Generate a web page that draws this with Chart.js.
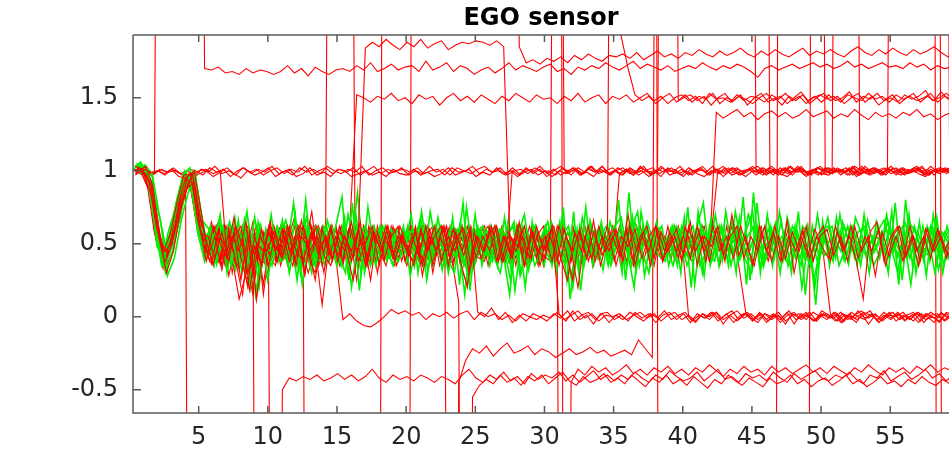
<!DOCTYPE html>
<html>
<head>
<meta charset="utf-8">
<script src="https://cdn.jsdelivr.net/npm/chart.js@4"></script>
<style>
  body { margin: 0; background: #fff; }
  canvas { display: block; }
</style>
</head>
<body>
<canvas id="egoChart" width="949" height="453"></canvas>
<script>
// sample times (s)
const xs = [
  0.3, 0.8, 1.3, 1.8, 2.3, 2.8, 3.3, 3.8, 4.3, 4.8,
  5.3, 5.8, 6.3, 6.8, 7.3, 7.8, 8.3, 8.8, 9.3, 9.8,
  10.3, 10.8, 11.3, 11.8, 12.3, 12.8, 13.3, 13.8, 14.3, 14.8,
  15.3, 15.8, 16.3, 16.8, 17.3, 17.8, 18.3, 18.8, 19.3, 19.8,
  20.3, 20.8, 21.3, 21.8, 22.3, 22.8, 23.3, 23.8, 24.3, 24.8,
  25.3, 25.8, 26.3, 26.8, 27.3, 27.8, 28.3, 28.8, 29.3, 29.8,
  30.3, 30.8, 31.3, 31.8, 32.3, 32.8, 33.3, 33.8, 34.3, 34.8,
  35.3, 35.8, 36.3, 36.8, 37.3, 37.8, 38.3, 38.8, 39.3, 39.8,
  40.3, 40.8, 41.3, 41.8, 42.3, 42.8, 43.3, 43.8, 44.3, 44.8,
  45.3, 45.8, 46.3, 46.8, 47.3, 47.8, 48.3, 48.8, 49.3, 49.8,
  50.3, 50.8, 51.3, 51.8, 52.3, 52.8, 53.3, 53.8, 54.3, 54.8,
  55.3, 55.8, 56.3, 56.8, 57.3, 57.8, 58.3, 58.8, 59.3
];

const xTicks = [5, 10, 15, 20, 25, 30, 35, 40, 45, 50, 55];
const yTicks = [-0.5, 0, 0.5, 1, 1.5];
const titleText = 'EGO sensor';

// green runs
const g1 = [
  1.03, 1.05, 0.95, 0.62, 0.35, 0.52, 0.78, 0.97, 1.02, 0.70,
  0.48, 0.62, 0.40, 0.58, 0.35, 0.66, 0.28, 0.55, 0.20, 0.60,
  0.42, 0.58, 0.45, 0.78, 0.30, 0.62, 0.40, 0.57, 0.38, 0.60,
  0.82, 0.25, 0.70, 0.35, 0.58, 0.42, 0.55, 0.40, 0.60, 0.45,
  0.70, 0.30, 0.62, 0.40, 0.56, 0.35, 0.68, 0.22, 0.75, 0.40,
  0.60, 0.42, 0.55, 0.38, 0.65, 0.18, 0.55, 0.32, 0.62, 0.45,
  0.58, 0.30, 0.75, 0.12, 0.60, 0.35, 0.62, 0.40, 0.55, 0.38,
  0.80, 0.25, 0.68, 0.35, 0.60, 0.40, 0.55, 0.42, 0.62, 0.30,
  0.75, 0.22, 0.62, 0.45, 0.70, 0.38, 0.60, 0.30, 0.82, 0.25,
  0.78, 0.35, 0.62, 0.40, 0.58, 0.30, 0.72, 0.15, 0.62, 0.40,
  0.55, 0.38, 0.70, 0.42, 0.60, 0.35, 0.66, 0.45, 0.58, 0.30,
  0.78, 0.25, 0.70, 0.30, 0.62, 0.38, 0.68, 0.35, 0.60
];
const g2 = [
  1.00, 1.04, 0.98, 0.55, 0.30, 0.45, 0.72, 0.92, 0.98, 0.62,
  0.55, 0.35, 0.60, 0.42, 0.68, 0.30, 0.62, 0.15, 0.50, 0.38,
  0.60, 0.40, 0.62, 0.25, 0.68, 0.42, 0.55, 0.35, 0.62, 0.42,
  0.30, 0.78, 0.18, 0.60, 0.40, 0.62, 0.38, 0.58, 0.42, 0.62,
  0.35, 0.72, 0.40, 0.62, 0.32, 0.58, 0.40, 0.78, 0.18, 0.62,
  0.40, 0.62, 0.35, 0.68, 0.30, 0.60, 0.20, 0.65, 0.38, 0.60,
  0.40, 0.65, 0.25, 0.72, 0.18, 0.62, 0.40, 0.65, 0.35, 0.60,
  0.30, 0.85, 0.30, 0.62, 0.38, 0.65, 0.40, 0.60, 0.35, 0.68,
  0.20, 0.72, 0.40, 0.65, 0.35, 0.72, 0.42, 0.68, 0.22, 0.85,
  0.30, 0.70, 0.40, 0.66, 0.35, 0.62, 0.20, 0.55, 0.08, 0.65,
  0.35, 0.68, 0.40, 0.62, 0.35, 0.70, 0.40, 0.62, 0.38, 0.72,
  0.22, 0.80, 0.35, 0.65, 0.28, 0.70, 0.40, 0.62, 0.45
];
const g3 = [
  1.05, 1.02, 0.90, 0.48, 0.40, 0.60, 0.82, 1.00, 0.92, 0.55,
  0.42, 0.52, 0.66, 0.36, 0.55, 0.45, 0.72, 0.35, 0.62, 0.25,
  0.55, 0.48, 0.35, 0.70, 0.22, 0.55, 0.62, 0.40, 0.52, 0.35,
  0.62, 0.45, 0.85, 0.30, 0.55, 0.38, 0.62, 0.45, 0.52, 0.38,
  0.55, 0.62, 0.25, 0.55, 0.62, 0.40, 0.30, 0.60, 0.30, 0.70,
  0.35, 0.55, 0.62, 0.45, 0.15, 0.62, 0.40, 0.55, 0.45, 0.35,
  0.65, 0.48, 0.35, 0.60, 0.30, 0.75, 0.35, 0.55, 0.62, 0.42,
  0.62, 0.45, 0.20, 0.72, 0.42, 0.55, 0.62, 0.35, 0.55, 0.45,
  0.40, 0.60, 0.78, 0.35, 0.55, 0.62, 0.35, 0.58, 0.40, 0.30,
  0.55, 0.62, 0.35, 0.72, 0.45, 0.55, 0.40, 0.62, 0.25, 0.50,
  0.68, 0.45, 0.55, 0.36, 0.68, 0.55, 0.30, 0.65, 0.45, 0.62,
  0.40, 0.55, 0.22, 0.58, 0.45, 0.60, 0.32, 0.55, 0.62
];
const g4 = [
  0.98, 1.00, 0.85, 0.66, 0.28, 0.40, 0.66, 0.85, 0.99, 0.66,
  0.60, 0.38, 0.50, 0.65, 0.40, 0.58, 0.20, 0.62, 0.42, 0.70,
  0.38, 0.62, 0.55, 0.32, 0.80, 0.35, 0.48, 0.62, 0.45, 0.55,
  0.40, 0.62, 0.30, 0.75, 0.42, 0.55, 0.45, 0.38, 0.60, 0.55,
  0.42, 0.35, 0.72, 0.45, 0.40, 0.62, 0.55, 0.15, 0.60, 0.55,
  0.50, 0.38, 0.60, 0.55, 0.62, 0.28, 0.45, 0.62, 0.52, 0.65,
  0.45, 0.55, 0.62, 0.35, 0.68, 0.45, 0.55, 0.32, 0.65, 0.50,
  0.45, 0.60, 0.72, 0.28, 0.55, 0.42, 0.38, 0.62, 0.45, 0.55,
  0.62, 0.35, 0.45, 0.55, 0.50, 0.40, 0.62, 0.45, 0.70, 0.55,
  0.45, 0.52, 0.65, 0.38, 0.60, 0.55, 0.45, 0.35, 0.70, 0.42,
  0.45, 0.60, 0.38, 0.55, 0.50, 0.42, 0.55, 0.40, 0.70, 0.45,
  0.60, 0.40, 0.62, 0.45, 0.55, 0.30, 0.58, 0.50, 0.42
];
const g5 = [
  1.02, 1.03, 0.92, 0.60, 0.38, 0.55, 0.75, 0.90, 0.96, 0.58,
  0.38, 0.58, 0.45, 0.55, 0.62, 0.35, 0.50, 0.45, 0.30, 0.55,
  0.50, 0.38, 0.60, 0.50, 0.42, 0.58, 0.35, 0.52, 0.58, 0.40,
  0.55, 0.35, 0.62, 0.50, 0.35, 0.58, 0.52, 0.60, 0.38, 0.48,
  0.60, 0.45, 0.50, 0.35, 0.60, 0.48, 0.42, 0.65, 0.45, 0.35,
  0.58, 0.48, 0.40, 0.60, 0.38, 0.52, 0.62, 0.40, 0.58, 0.50,
  0.38, 0.58, 0.45, 0.28, 0.50, 0.55, 0.42, 0.60, 0.45, 0.58,
  0.55, 0.35, 0.55, 0.48, 0.65, 0.50, 0.45, 0.55, 0.40, 0.62,
  0.48, 0.55, 0.30, 0.62, 0.42, 0.55, 0.48, 0.62, 0.45, 0.38,
  0.62, 0.40, 0.55, 0.50, 0.40, 0.62, 0.52, 0.45, 0.38, 0.58,
  0.50, 0.55, 0.45, 0.62, 0.40, 0.52, 0.48, 0.55, 0.52, 0.40,
  0.55, 0.62, 0.40, 0.55, 0.38, 0.62, 0.45, 0.58, 0.50
];
const g6 = [
  1.00, 0.99, 0.96, 0.68, 0.45, 0.50, 0.68, 0.95, 1.00, 0.72,
  0.45, 0.40, 0.62, 0.48, 0.32, 0.62, 0.48, 0.55, 0.48, 0.45,
  0.62, 0.52, 0.40, 0.62, 0.48, 0.30, 0.60, 0.45, 0.40, 0.58,
  0.48, 0.55, 0.40, 0.45, 0.62, 0.45, 0.40, 0.55, 0.48, 0.58,
  0.45, 0.58, 0.40, 0.58, 0.45, 0.55, 0.60, 0.35, 0.50, 0.62,
  0.42, 0.55, 0.48, 0.40, 0.52, 0.42, 0.60, 0.48, 0.40, 0.55,
  0.52, 0.42, 0.58, 0.50, 0.40, 0.45, 0.60, 0.48, 0.40, 0.55,
  0.40, 0.65, 0.38, 0.58, 0.45, 0.58, 0.50, 0.45, 0.60, 0.48,
  0.55, 0.45, 0.58, 0.40, 0.62, 0.45, 0.52, 0.40, 0.55, 0.62,
  0.40, 0.60, 0.48, 0.55, 0.52, 0.40, 0.62, 0.55, 0.48, 0.60,
  0.40, 0.48, 0.62, 0.45, 0.58, 0.62, 0.42, 0.50, 0.60, 0.55,
  0.45, 0.50, 0.55, 0.42, 0.62, 0.45, 0.55, 0.40, 0.55
];
const g7 = [
  1.04, 1.01, 0.88, 0.58, 0.33, 0.48, 0.80, 0.98, 0.90, 0.64,
  0.52, 0.44, 0.70, 0.30, 0.58, 0.50, 0.38, 0.68, 0.35, 0.55,
  0.45, 0.66, 0.30, 0.55, 0.62, 0.45, 0.35, 0.62, 0.55, 0.45,
  0.68, 0.20, 0.55, 0.62, 0.38, 0.60, 0.48, 0.35, 0.55, 0.42,
  0.50, 0.68, 0.32, 0.52, 0.62, 0.30, 0.55, 0.45, 0.25, 0.58,
  0.62, 0.35, 0.58, 0.48, 0.25, 0.55, 0.70, 0.38, 0.48, 0.62,
  0.35, 0.62, 0.50, 0.20, 0.62, 0.40, 0.48, 0.62, 0.38, 0.62,
  0.68, 0.40, 0.65, 0.45, 0.30, 0.62, 0.40, 0.55, 0.62, 0.40,
  0.48, 0.62, 0.28, 0.68, 0.55, 0.42, 0.66, 0.38, 0.58, 0.72,
  0.35, 0.45, 0.58, 0.30, 0.68, 0.48, 0.35, 0.62, 0.20, 0.60,
  0.62, 0.40, 0.65, 0.50, 0.45, 0.62, 0.38, 0.58, 0.66, 0.48,
  0.30, 0.65, 0.50, 0.35, 0.58, 0.62, 0.40, 0.48, 0.60
];
const g8 = [
  1.01, 1.06, 0.94, 0.64, 0.36, 0.58, 0.74, 0.93, 0.97, 0.68,
  0.46, 0.60, 0.36, 0.62, 0.45, 0.40, 0.66, 0.25, 0.65, 0.48,
  0.35, 0.55, 0.66, 0.40, 0.50, 0.68, 0.42, 0.38, 0.66, 0.48,
  0.35, 0.70, 0.45, 0.40, 0.55, 0.35, 0.62, 0.50, 0.45, 0.62,
  0.28, 0.55, 0.60, 0.38, 0.68, 0.42, 0.48, 0.58, 0.62, 0.32,
  0.45, 0.60, 0.42, 0.30, 0.55, 0.65, 0.30, 0.55, 0.35, 0.45,
  0.60, 0.38, 0.68, 0.40, 0.55, 0.35, 0.66, 0.45, 0.58, 0.35,
  0.52, 0.58, 0.35, 0.60, 0.50, 0.35, 0.60, 0.48, 0.35, 0.58,
  0.35, 0.48, 0.60, 0.42, 0.38, 0.62, 0.35, 0.72, 0.48, 0.45,
  0.58, 0.35, 0.45, 0.62, 0.40, 0.35, 0.58, 0.40, 0.55, 0.35,
  0.58, 0.62, 0.35, 0.48, 0.62, 0.40, 0.60, 0.35, 0.45, 0.65,
  0.48, 0.38, 0.66, 0.58, 0.45, 0.42, 0.65, 0.30, 0.58
];

// red runs (9 / -9 = off the plotted range)
const r1 = [
  1.00, 1.02, 1.00, 0.98, 1.01, 0.99, 1.00, 0.97, 1.01, 1.00,
  0.97, 1.02, 0.99, 1.01, 0.96, 1.00, 1.02, 0.98, 1.01, 0.99,
  1.03, 0.98, 1.00, 0.97, 1.02, 0.99, 1.01, 0.98, 1.03, 1.00,
  0.98, 1.01, 0.99, 1.03, 0.97, 1.00, 1.02, 0.98, 1.00, 1.01,
  0.99, 1.02, 0.98, 1.00, 1.01, 0.97, 1.02, 0.99, 1.00, 1.03,
  0.98, 1.01, 0.99, 1.02, 0.97, 1.00, 1.01, 0.98, 1.02, 0.99,
  1.00, 0.97, 1.02, 0.99, 1.01, 0.98, 1.03, 0.99, 1.00, 0.97,
  1.02, 0.99, 1.01, 0.97, 1.00, 1.02, 0.98, 1.01, 0.99, 1.03,
  0.98, 1.00, 1.02, 0.97, 1.01, 0.99, 1.02, 0.98, 1.00, 1.01,
  0.97, 1.02, 0.99, 1.01, 0.98, 1.03, 0.99, 1.00, 0.97, 1.02,
  1.00, 0.98, 1.01, 0.99, 1.02, 0.97, 1.00, 1.02, 0.98, 1.01,
  0.99, 1.01, 0.98, 1.02, 1.00, 0.97, 1.01, 0.99, 1.00
];
const r2 = [
  1.03, 0.99, 0.98, 1.00, 0.97, 1.01, 0.99, 0.96, 0.95, 0.98,
  1.00, 0.96, 0.99, 1.02, 0.98, 0.95, 1.00, 0.97, 0.99, 1.02,
  0.96, 0.99, 1.01, 0.96, 0.98, 1.02, 0.97, 0.99, 0.96, 1.01,
  1.00, 0.96, 0.98, 1.00, 0.97, 0.99, 0.96, 1.01, 0.98, 0.97,
  1.01, 0.97, 0.99, 0.96, 0.98, 1.02, 0.97, 0.99, 1.01, 0.96,
  0.99, 0.97, 1.02, 0.98, 1.00, 0.96, 0.99, 1.01, 0.97, 1.00,
  0.96, 1.00, 0.98, 1.02, 0.97, 0.99, 0.96, 1.01, 0.98, 1.00,
  0.97, 1.01, 0.98, 1.00, 0.96, 0.99, 1.02, 0.97, 0.99, 0.96,
  1.01, 0.98, 0.96, 1.00, 0.98, 1.02, 0.97, 0.99, 0.96, 1.00,
  1.00, 0.97, 1.01, 0.98, 0.96, 1.00, 1.02, 0.97, 0.99, 0.98,
  0.97, 1.01, 0.98, 1.02, 0.96, 0.99, 0.97, 1.00, 1.02, 0.98,
  1.00, 0.97, 1.01, 0.98, 0.96, 1.00, 0.98, 1.02, 0.99
];
const r3 = [
  1.00, 1.01, 0.99, 0.98, 9, 9, 9, 9, 9, 9,
  9, 9, 9, 9, 9, 9, 9, 9, 9, 9,
  9, 9, 9, 9, 9, 9, 9, 9, 9, 9,
  9, 9, 0.58, 0.38, 0.62, 0.45, 0.52, 0.58, 0.35, 0.50,
  0.62, 0.45, 0.55, 0.38, 0.60, 0.42, -9, -0.45, -0.30, -0.22,
  -0.25, -0.20, -0.27, -0.22, -0.18, -0.25, -0.23, -0.20, -0.26, -0.22,
  -0.24, -0.28, -0.25, -0.22, -0.26, -0.24, -0.21, -0.25, -0.23, -0.27,
  -0.25, -0.23, -0.26, -0.16, -0.22, -0.28, 9, 9, 9, 9,
  9, 9, 9, 9, 9, 9, 9, 9, 9, 9,
  9, 9, 1.00, 0.98, 1.02, 0.99, 1.01, 0.97, 1.00, 1.02,
  0.98, 1.01, 0.99, 1.02, 0.97, 1.00, 1.01, 0.98, 1.00, 1.02,
  0.99, 0.97, 1.01, 0.99, 1.02, 0.98, 1.00, 1.01, 0.98
];
const r4 = [
  9, 9, 9, 9, 9, 9, 9, 9, 9, 9,
  1.70, 1.69, 1.71, 1.67, 1.68, 1.66, 1.70, 1.67, 1.69, 1.68,
  1.66, 1.68, 1.72, 1.67, 1.70, 1.65, 1.71, 1.68, 1.66, 1.69,
  1.70, 1.68, 1.72, 1.69, 1.74, 1.68, 1.70, 1.73, 1.69, 1.71,
  1.72, 1.68, 1.75, 1.69, 1.71, 1.74, 1.68, 1.72, 1.70, 1.66,
  1.69, 1.71, 1.67, 1.70, 1.74, 1.69, 1.72, 1.70, 1.68, 1.71,
  1.73, 1.68, 1.70, 1.66, 1.71, 1.69, 1.72, 1.70, 1.74, 1.71,
  1.69, 1.72, 1.75, 1.70, 1.73, 1.71, 1.69, 1.72, 1.68, 1.70,
  1.72, 1.70, 1.74, 1.71, 1.69, 1.72, 1.70, 1.73, 1.71, 1.68,
  1.64, 1.70, 1.72, 1.69, 1.71, 1.73, 1.70, 1.72, 1.74, 1.71,
  1.73, 1.70, 1.72, 1.75, 1.71, 1.73, 1.70, 1.72, 1.74, 1.71,
  1.72, 1.70, 1.74, 1.71, 1.73, 1.69, 1.72, 1.70, 1.71
];
const r5 = [
  1.00, 0.97, 0.86, 0.52, 0.40, 0.58, 0.72, 0.90, 0.93, 0.60,
  0.45, 0.60, 0.38, 0.55, 0.62, 0.32, 0.58, 0.18, 0.48, 0.40,
  0.62, 0.35, 0.52, 0.68, 0.40, 0.55, 0.45, 0.62, 0.38, 0.55,
  0.48, 0.62, 1.52, 1.50, 1.47, 1.51, 1.49, 1.53, 1.48, 1.50,
  1.46, 1.52, 1.49, 1.51, 1.45, 1.50, 1.53, 1.48, 1.51, 1.47,
  1.52, 1.49, 1.46, 1.51, 1.48, 1.53, 1.50, 1.47, 1.52, 1.49,
  1.50, 1.46, 1.51, 1.48, 1.53, 1.47, 1.50, 1.52, 1.46, 1.51,
  1.49, 1.52, 1.47, 1.50, 1.53, 1.48, 1.51, 1.46, 1.50, 1.52,
  1.48, 1.51, 1.46, 1.53, 1.49, 1.50, 1.47, 1.52, 1.48, 1.51,
  1.50, 1.47, 1.52, 1.49, 1.53, 1.48, 1.51, 1.46, 1.50, 1.52,
  1.49, 1.51, 1.47, 1.52, 1.50, 1.48, 1.53, 1.49, 1.51, 1.47,
  1.52, 1.49, 1.51, 1.48, 1.50, 1.53, 1.47, 1.51, 1.49
];
const r6 = [
  1.02, 0.99, 0.90, 0.60, 0.45, 0.50, 0.68, 0.86, 0.98, 0.70,
  0.52, 0.36, 0.55, 0.45, 0.68, 0.40, 0.22, 0.55, 0.35, 0.62,
  0.48, 0.40, 0.58, 0.35, 0.62, 0.45, 0.55, 0.30, 0.60, 0.42,
  0.55, 0.38, 0.60, 1.84, 1.88, 1.85, 1.90, 1.86, 1.83, 1.88,
  1.85, 1.90, 1.84, 1.87, 1.89, 1.83, 1.86, 1.88, 1.87, 1.89,
  1.88, 1.86, 1.89, 1.85, 0.40, 0.55, 0.35, 0.60, 0.42, 0.55,
  0.38, 0.62, 0.45, 0.25, 0.58, 0.40, 0.66, 0.35, 0.52, 0.60,
  0.40, 0.70, 0.35, 0.55, 0.45, 0.62, 0.38, 0.50, 0.60, 0.42,
  0.65, 0.35, 0.55, 0.48, 0.62, 0.38, 0.70, 0.42, 0.55, 0.35,
  0.62, 0.45, 0.58, 0.38, 0.66, 0.30, 0.55, 0.42, 0.60, 0.48,
  0.40, 0.62, 0.45, 0.55, 0.38, 0.12, 0.58, 0.65, 0.38, 0.55,
  0.62, 0.40, 0.55, 0.35, 0.60, 0.45, 0.58, 0.40, 0.62
];
const r7 = [
  0.99, 1.00, 0.91, 0.58, 0.35, 0.46, 0.70, 0.89, 0.95, 0.66,
  0.40, 0.55, 0.62, 0.28, 0.50, 0.45, 0.60, 0.12, 0.58, 0.42,
  0.55, 0.45, 0.38, 0.62, 0.48, 0.72, 0.35, 0.55, 9, 9,
  9, 9, 9, 9, 9, 9, 9, 9, 9, 9,
  9, 9, 9, 9, 9, 9, 9, 9, 9, 9,
  9, 9, 9, 9, 9, 1.85, 1.74, 1.76, 1.73, 1.77,
  1.75, 1.78, 1.74, 1.79, 1.76, 1.80, 1.77, 1.75, 1.79, 1.78,
  1.80, 1.77, 1.81, 1.76, 1.79, 1.82, 1.78, 1.80, 1.77, 1.81,
  1.79, 1.83, 1.80, 1.78, 1.82, 1.79, 1.81, 1.84, 1.80, 1.78,
  1.82, 1.79, 1.83, 1.80, 1.78, 1.81, 1.84, 1.79, 1.82, 1.80,
  1.83, 1.80, 1.78, 1.82, 1.85, 1.81, 1.79, 1.83, 1.80, 1.84,
  1.81, 1.79, 1.83, 1.80, 1.82, 1.85, 1.81, 1.78, 1.82
];
const r8 = [
  1.00, 1.01, 0.87, 0.63, 0.40, 0.55, 0.77, 0.94, 0.88, 0.58,
  0.48, 0.65, 0.42, 0.52, 0.35, 0.58, 0.45, 0.20, 0.62, 0.38,
  0.50, 0.62, 0.40, 0.55, 0.45, 0.30, 0.48, 0.08, 0.50, 0.40,
  -0.02, 0.02, -0.03, -0.06, -0.07, -0.04, 0.00, 0.05, 0.02, 0.04,
  0.01, 0.03, -0.02, 0.02, 0.00, 0.03, -0.01, 0.02, 0.04, -0.02,
  0.03, 0.00, 0.02, -0.02, 0.01, -0.03, 0.02, 0.00, -0.02, 0.01,
  -0.01, 0.03, -0.02, 0.01, 0.04, -0.01, 0.02, -0.03, 0.01, 0.00,
  0.02, -0.02, 0.01, 0.03, -0.01, 0.02, -0.03, 0.01, 0.03, -0.02,
  0.01, -0.03, 0.02, 0.00, 0.03, -0.02, 0.01, 0.04, -0.01, 0.02,
  -0.02, 0.02, 0.00, 0.03, -0.03, 0.01, 0.02, -0.02, 0.03, 0.00,
  0.02, -0.01, 0.03, -0.02, 0.01, 0.04, -0.01, 0.02, -0.03, 0.01,
  0.00, 0.03, -0.02, 0.02, -0.01, 0.03, 0.00, -0.02, 0.01
];
const r9 = [
  1.03, 0.98, 0.85, 0.50, 0.36, 0.50, 0.73, 0.91, 0.97, 0.64,
  0.44, 0.58, 0.36, 0.62, 0.42, 0.50, 0.30, 0.55, 0.38, 0.35,
  -9, -0.50, -0.42, -0.44, -0.41, -0.43, -0.40, -0.44, -0.42, -0.39,
  -0.43, -0.40, -0.44, -0.41, -0.36, -0.42, -0.45, -0.40, -0.43, -0.41,
  -0.44, -0.40, -0.42, -0.45, -0.41, -0.43, -0.46, -0.40, -0.36, -0.42,
  -0.45, -0.40, -0.43, -0.38, -0.44, -0.41, -0.46, -0.39, -0.43, -0.40,
  -0.42, -0.38, -0.44, -0.40, -0.45, -0.41, -0.37, -0.43, -0.40, -0.44,
  -0.40, -0.43, -0.38, -0.42, -0.45, -0.40, -0.43, -0.37, -0.41, -0.44,
  -0.42, -0.38, -0.44, -0.40, -0.36, -0.43, -0.41, -0.45, -0.39, -0.42,
  -0.40, -0.44, -0.38, -0.42, -0.45, -0.39, -0.43, -0.40, -0.37, -0.42,
  -0.44, -0.40, -0.42, -0.38, -0.43, -0.46, -0.40, -0.42, -0.37, -0.44,
  -0.41, -0.38, -0.43, -0.40, -0.36, -0.42, -0.39, -0.44, -0.40
];
const r10 = [
  1.01, 1.00, 0.89, 0.57, 0.41, 0.53, 0.71, 0.87, 0.94, 0.67,
  0.50, 0.38, 0.62, 0.45, 0.55, 0.35, 0.60, 0.25, 0.42, 0.58,
  0.40, 0.55, 0.48, 0.35, 0.62, 0.42, 0.58, 0.38, 0.52, 0.45,
  0.62, 0.30, 0.55, 0.42, 0.60, 0.38, 0.55, 0.48, 0.40, 0.58,
  0.42, 0.60, 0.35, 0.55, 0.45, 0.62, 0.40, 0.10, -9, -0.55,
  -0.47, -0.43, -0.46, -0.40, -0.45, -0.42, -0.47, -0.41, -0.44, -0.40,
  -0.46, -0.42, -0.38, -0.44, -0.47, -0.41, -0.45, -0.43, -0.39, -0.45,
  -0.42, -0.46, -0.40, -0.44, -0.48, -0.42, -0.45, -0.40, -0.46, -0.43,
  -0.47, -0.41, -0.45, -0.49, -0.43, -0.46, -0.40, -0.44, -0.47, -0.42,
  -0.45, -0.48, -0.42, -0.46, -0.44, -0.40, -0.46, -0.43, -0.48, -0.44,
  -0.42, -0.47, -0.44, -0.40, -0.46, -0.43, -0.48, -0.45, -0.41, -0.46,
  -0.44, -0.48, -0.43, -0.46, -0.41, -0.45, -0.47, -0.43, -0.46
];
const r11 = [
  0.99, 1.02, 0.92, 0.66, 0.39, 0.44, 0.69, 0.93, 0.96, 0.61,
  0.58, 0.42, 0.50, 0.62, 0.30, 0.55, 0.45, 0.65, 0.28, 0.50,
  0.62, 0.45, 0.55, 0.38, 0.66, 0.40, 0.30, 0.58, 0.45, 0.62,
  0.42, 0.58, 0.25, 0.62, 0.40, 0.55, 0.45, 0.60, 0.38, 0.55,
  0.48, 0.38, 0.62, 0.30, 0.55, 0.45, 0.60, 0.35, 0.22, 0.58,
  0.40, 0.55, 0.62, 0.42, 0.58, 0.35, 0.60, 0.45, 0.55, 0.38,
  0.60, 0.40, -9, -0.45, -0.36, -0.40, -0.34, -0.38, -0.35, -0.40,
  -0.37, -0.33, -0.39, -0.36, -0.40, -0.35, -0.38, -0.34, -0.39, -0.36,
  -0.40, -0.35, -0.38, -0.33, -0.37, -0.41, -0.36, -0.39, -0.34, -0.38,
  -0.36, -0.40, -0.34, -0.38, -0.35, -0.39, -0.36, -0.33, -0.38, -0.35,
  -0.39, -0.34, -0.37, -0.40, -0.35, -0.38, -0.33, -0.37, -0.40, -0.35,
  -0.38, -0.35, -0.39, -0.34, -0.37, -0.33, -0.38, -0.35, -0.37
];
const r12 = [
  1.00, 1.03, 0.90, 0.53, 0.44, 0.57, 0.76, 0.88, 0.92, 0.57,
  0.55, 0.40, 0.58, 0.38, 0.62, 0.48, 0.18, 0.50, 0.45, 0.65,
  0.38, 0.60, 0.42, 0.55, 0.28, 0.62, 0.45, 0.55, 0.40, 0.58,
  0.52, 0.40, 0.65, 0.35, 0.58, 0.45, 0.62, 0.38, 0.55, 0.42,
  0.58, 0.35, 0.60, 0.45, 0.62, 0.40, 0.55, 0.42, 0.60, 0.03,
  0.00, 0.06, -0.02, 0.03, -0.04, 0.01, -0.03, 0.02, 0.00, -0.03,
  0.02, -0.01, 0.04, -0.03, 0.01, 0.03, -0.02, 0.02, -0.04, 0.01,
  -0.02, 0.03, 0.00, -0.03, 0.02, -0.01, 0.04, -0.02, 0.01, 0.03,
  -0.03, 0.01, -0.01, 0.03, -0.02, 0.02, -0.04, 0.01, 0.03, -0.02,
  0.02, -0.03, 0.01, -0.01, 0.04, -0.02, 0.00, 0.03, -0.03, 0.02,
  -0.01, 0.02, -0.03, 0.03, 0.00, -0.02, 0.02, -0.04, 0.01, 0.03,
  -0.02, 0.01, 0.03, -0.03, 0.02, -0.01, 0.02, 0.00, -0.02
];
const r13 = [
  1.02, 0.97, 0.84, 0.61, 0.37, 0.49, 0.78, 0.95, 0.91, 0.63,
  0.38, 0.62, 0.50, 0.40, 0.58, 0.25, 0.55, 0.42, 0.60, 0.35,
  0.58, 0.42, 0.62, 0.45, 0.38, 0.55, 0.62, 0.42, 0.35, 0.55,
  0.45, 0.65, 0.38, 0.50, 0.62, 0.35, 0.55, 0.40, 0.62, 0.48,
  0.35, 0.58, 0.45, 0.62, 0.38, 0.55, 0.45, 0.62, 0.30, 0.55,
  0.45, 0.60, 0.38, 0.55, 0.42, 0.62, 0.35, 0.58, 0.45, 0.40,
  0.62, 0.02, -0.03, 0.04, -0.02, 0.01, -0.05, 0.02, 0.03, -0.02,
  0.01, -0.03, 0.03, -0.01, 0.02, -0.04, 0.01, 0.03, -0.02, 0.02,
  -0.04, 0.02, -0.01, 0.03, -0.03, 0.01, 0.04, -0.02, 0.02, -0.03,
  0.03, -0.02, 0.02, -0.04, 0.01, 0.03, -0.02, 0.01, -0.03, 0.04,
  0.01, -0.03, 0.02, 0.00, -0.04, 0.03, 0.01, -0.02, 0.03, -0.01,
  0.03, -0.02, 0.01, -0.04, 0.02, 0.00, -0.03, 0.03, 0.01
];
const r14 = [
  0.98, 1.00, 0.95, 0.62, 0.43, 0.56, 0.66, 0.84, 0.96, 0.69,
  0.42, 0.55, 0.65, 0.35, 0.50, 0.60, 0.38, 0.15, 0.55, 0.45,
  0.60, 0.38, 0.50, 0.62, 0.35, 0.58, 0.42, 0.60, 0.38, 0.50,
  0.38, 0.62, 0.45, 0.55, 0.35, 0.62, 0.42, 0.58, 0.40, 0.55,
  0.62, 0.42, 0.55, 0.38, 0.58, 0.45, 0.35, 0.60, 0.45, 0.38,
  0.55, 0.42, 0.62, 0.38, 0.55, 0.45, 0.60, 0.35, 0.58, 0.42,
  0.38, 0.62, 0.45, 0.55, 0.40, 0.62, 0.38, 0.55, 0.45, 0.62,
  0.42, 0.58, 0.35, 0.62, 0.45, 0.55, 0.40, 0.62, 0.38, 0.55,
  0.00, -0.04, 0.02, -0.02, 0.03, -0.05, 0.01, -0.03, 0.02, -0.01,
  -0.04, 0.02, -0.02, 0.01, -0.05, 0.02, -0.01, 0.03, -0.03, 0.01,
  -0.02, 0.03, -0.04, 0.01, -0.01, 0.02, -0.05, 0.01, -0.02, 0.03,
  -0.03, 0.01, -0.02, 0.03, -0.04, 0.01, 0.02, -0.03, 0.00
];
const r15 = [
  1.01, 0.98, 0.89, 0.56, 0.37, 0.54, 0.74, 0.91, 0.94, 0.60,
  0.46, 0.62, 0.35, 0.55, 0.48, 0.62, 0.40, 0.58, 0.22, 0.55,
  0.45, 0.62, 0.38, 0.58, 0.50, 0.35, 0.62, 0.45, 0.58, 0.38,
  0.60, 0.42, 0.55, 0.35, 0.62, 0.45, 0.52, 0.60, 0.38, 0.55,
  0.45, 0.62, 0.40, 0.55, 0.38, 0.62, 0.45, 0.58, 0.40, 0.55,
  0.62, 0.40, 0.55, 0.38, 1.00, 0.97, 1.02, 0.98, 1.01, 0.96,
  1.00, 1.03, 0.98, 1.01, 0.97, 1.02, 0.99, 1.03, 0.97, 1.00,
  1.02, 0.98, 1.00, 1.03, 0.97, 1.01, 0.99, 1.02, 0.98, 1.00,
  0.97, 1.01, 0.99, 1.03, 0.98, 1.00, 1.02, 0.97, 1.01, 0.99,
  1.02, 0.98, 1.00, 0.97, 1.03, 0.99, 1.01, 0.98, 1.02, 1.00,
  0.98, 1.02, 0.99, 1.01, 0.97, 1.03, 0.99, 1.00, 0.97, 1.02,
  1.00, 0.98, 1.02, 0.99, 1.01, 0.97, 1.02, 1.00, 0.98
];
const r16 = [
  1.00, 1.02, 0.93, 0.59, 0.42, 0.47, 0.72, 0.90, 0.99, 0.71,
  0.50, 0.45, 0.60, 0.38, 0.55, 0.42, 0.62, 0.30, 0.52, 0.45,
  0.55, 0.38, 0.62, 0.42, 0.55, 0.60, 0.35, 0.58, 0.42, 0.60,
  0.40, 0.55, 0.62, 0.42, 0.38, 0.58, 0.45, 0.62, 0.40, 0.52,
  0.60, 0.40, 0.55, 0.62, 0.35, 0.50, 0.58, 0.42, 0.62, 0.40,
  0.55, 0.62, 0.42, 0.58, 0.38, 0.55, 0.45, 0.62, 0.40, 0.58,
  0.45, 9, 1.01, 0.97, 1.02, 0.99, 1.03, 0.98, 1.00, 1.02,
  0.98, 1.01, 0.97, 1.02, 1.00, 0.98, 1.03, 0.99, 1.01, 0.97,
  1.02, 0.99, 1.01, 0.97, 1.00, 1.03, 0.98, 1.01, 0.99, 1.02,
  0.98, 1.00, 1.03, 0.99, 1.01, 0.97, 1.02, 0.99, 1.01, 0.98,
  1.02, 0.99, 1.00, 0.97, 1.03, 1.00, 0.98, 1.02, 0.99, 1.01,
  0.97, 1.02, 0.99, 1.01, 0.98, 1.03, 0.99, 1.00, 1.02
];
const r17 = [
  1.03, 1.00, 0.87, 0.54, 0.39, 0.51, 0.79, 0.92, 0.93, 0.65,
  0.52, 0.35, 0.58, 0.45, 0.62, 0.40, 0.55, 0.35, 0.58, 0.42,
  0.35, 0.60, 0.45, 0.55, 0.40, 0.65, 0.38, 0.52, 0.60, 0.40,
  0.58, 0.45, 0.38, 0.62, 0.45, 0.55, 0.40, 0.58, 0.50, 0.35,
  0.55, 0.45, 0.62, 0.40, 0.58, 0.35, 0.60, 0.48, 0.55, 0.42,
  0.38, 0.62, 0.45, 0.55, 0.35, 0.60, 0.42, 0.58, 0.38, 0.62,
  0.42, 0.55, 0.38, 0.62, 0.45, 0.58, 0.35, 0.60, 0.45, 9,
  1.92, 1.70, 1.52, 1.48, 1.51, 1.46, 1.50, 1.53, 1.47, 1.50,
  1.52, 1.48, 1.51, 1.45, 1.50, 1.53, 1.47, 1.51, 1.49, 1.46,
  1.50, 1.53, 1.48, 1.51, 1.46, 1.50, 1.54, 1.48, 1.51, 1.47,
  1.52, 1.48, 1.50, 1.54, 1.47, 1.51, 1.49, 1.53, 1.48, 1.50,
  1.47, 1.52, 1.49, 1.51, 1.55, 1.48, 1.50, 1.53, 1.49
];
const r18 = [
  1.02, 1.00, 0.97, 1.01, 0.99, 1.02, 0.98, 1.00, 0.96, 1.01,
  0.99, 1.03, 0.98, 1.00, 0.97, 1.02, 0.99, 1.01, 0.97, 1.00,
  1.02, 0.98, 1.01, 0.99, 1.03, 0.97, 1.00, 1.02, 0.98, 1.01,
  0.99, 1.02, 0.97, 1.00, 1.03, 0.98, 1.01, 0.99, 1.02, 0.97,
  1.00, 0.98, 1.03, 0.99, 1.01, 0.97, 1.02, 1.00, 0.98, 1.01,
  1.03, 0.99, 1.00, 0.97, 1.02, 0.98, 1.01, 0.99, 1.03, 0.98,
  1.01, 0.97, 1.00, 1.02, 0.98, 1.01, 0.99, 1.03, 0.98, 1.00,
  0.97, 1.02, 0.99, 1.01, 0.98, 0.99, 9, 9, 1.48, 1.52,
  1.47, 1.51, 1.49, 1.53, 1.46, 1.50, 1.48, 1.52, 1.45, 1.50,
  1.53, 1.47, 1.50, 1.45, 1.51, 1.48, 1.52, 1.46, 1.50, 1.53,
  1.48, 1.51, 1.46, 1.50, 1.53, 1.47, 1.51, 1.45, 1.49, 1.52,
  1.46, 1.50, 1.53, 1.47, 1.51, 1.48, 1.54, 1.49, 1.50
];
const r19 = [
  0.97, 1.01, 0.94, 0.65, 0.33, 0.52, 0.71, 0.86, 0.97, 0.73,
  0.40, 0.62, 0.48, 0.35, 0.60, 0.45, 0.55, 0.40, 0.62, 0.28,
  0.50, 0.62, 0.35, 0.48, 0.58, 0.40, 0.62, 0.35, 0.55, 0.45,
  0.60, 0.40, 0.55, 0.45, 0.62, 0.30, 0.58, 0.45, 0.55, 0.38,
  0.58, 0.45, 0.35, 0.60, 0.42, 0.62, 0.38, 0.55, 0.45, 0.60,
  0.40, 0.55, 0.45, 0.62, 0.38, 0.55, 0.60, 0.42, 0.58, 0.35,
  0.55, 0.42, 0.62, 0.38, 0.58, 0.45, 0.62, 0.40, 0.55, 0.45,
  0.62, 0.38, 0.55, 0.45, 0.60, 0.35, 0.58, 0.42, 0.62, 0.40,
  0.55, 0.45, 0.62, 0.40, 1.40, 1.36, 1.39, 1.42, 1.37, 1.40,
  1.35, 1.39, 1.41, 1.37, 1.40, 1.36, 1.38, 1.42, 1.37, 1.39,
  1.41, 1.36, 1.39, 1.37, 1.42, 1.38, 1.35, 1.40, 1.37, 1.39,
  1.36, 1.40, 1.38, 1.42, 1.37, 1.39, 1.35, 1.38, 1.40
];
const r21 = [
  1.01, 0.99, 0.91, 0.57, 0.38, 0.55, 0.73, 0.89, 0.94, 0.62,
  0.55, 0.45, 0.38, 0.60, 0.42, 0.55, 0.62, 0.35, 0.45, 0.60,
  0.38, 0.55, 0.60, 0.45, 0.35, 0.62, 0.50, 0.40, 0.62, 0.45,
  0.55, 0.40, 0.62, 0.38, 0.55, 0.45, 0.35, 0.62, 0.42, 0.58,
  0.40, 0.62, 0.45, 0.55, 0.38, 0.60, 0.42, 0.55, 0.62, 0.38,
  0.62, 0.45, 0.38, 0.58, 0.45, 0.62, 0.40, 0.55, 0.35, 0.60,
  0.45, 0.58, 0.40, 0.62, 0.35, 0.55, 0.45, 0.62, 0.42, 0.55,
  0.35, 0.62, 0.45, 0.55, 0.40, 0.62, 0.38, 0.58, 0.45, 0.62,
  0.40, 0.55, 0.62, 0.38, 0.58, 0.45, 0.62, 0.35, 0.03, -0.02,
  0.02, -0.04, 0.01, -0.02, 0.03, -0.05, 0.02, 0.00, -0.03, 0.02,
  -0.01, 0.03, -0.04, 0.02, -0.02, 0.01, 0.04, -0.03, 0.01, -0.02,
  0.02, -0.03, 0.01, 0.03, -0.02, 0.00, -0.04, 0.02, -0.01
];
const r22 = [
  1.00, 1.00, 0.86, 0.51, 0.42, 0.59, 0.77, 0.93, 0.91, 0.59,
  0.45, 0.58, 0.40, 0.62, 0.35, 0.55, 0.48, 0.62, 0.15, 0.52,
  0.62, 0.40, 0.55, 0.42, 0.60, 0.38, 0.58, 0.45, 0.62, 0.35,
  0.50, 0.62, 0.38, 0.55, 0.45, 0.62, 0.42, 0.35, 0.58, 0.45,
  0.62, 0.38, 0.55, 0.42, 0.60, 0.45, 0.58, 0.35, 0.62, 0.45,
  0.38, 0.60, 0.45, 0.55, 0.40, 0.62, 0.35, 0.58, 0.42, 0.55,
  0.60, 0.40, 0.58, 0.45, 0.62, 0.38, 0.55, 0.42, 0.60, 0.35,
  0.55, 0.42, 0.62, 0.38, 0.58, 0.45, 0.55, 0.40, 0.62, 0.45,
  0.38, 0.60, 0.45, 0.55, 0.35, 0.62, 0.42, 0.58, 0.40, 0.55,
  0.62, 0.38, 0.55, 0.45, 0.62, 0.40, 0.58, 0.35, 0.55, 0.42,
  0.02, -0.03, 0.01, -0.02, 0.04, -0.01, 0.02, -0.04, 0.01, 0.03,
  -0.02, 0.01, -0.03, 0.02, 0.00, -0.04, 0.03, -0.01, 0.02
];
const r23 = [
  0.98, 1.02, 0.90, 0.61, 0.40, 0.50, 0.70, 0.94, 0.95, 0.68,
  0.58, 0.40, 0.55, 0.48, 0.62, 0.35, 0.60, 0.42, 0.55, 0.38,
  0.62, 0.42, 0.58, 0.35, 0.55, 0.48, 0.62, 0.40, 0.55, 0.60,
  0.35, 0.58, 0.45, 0.62, 0.40, 0.55, 0.38, 0.60, 0.45, 0.55,
  0.62, 0.40, 0.58, 0.45, 0.55, 0.38, 0.62, 0.42, 0.55, 0.45,
  0.58, 0.35, 0.62, 0.45, 0.55, 0.40, 0.60, 0.38, 0.55, 0.62,
  0.40, 0.55, 0.62, 0.38, 0.58, 0.45, 0.60, 0.42, 0.55, 0.40,
  0.98, 1.01, 0.97, 1.03, 0.99, 1.00, 0.96, 1.02, 0.98, 1.01,
  0.97, 1.00, 1.03, 0.98, 1.01, 0.96, 1.00, 1.02, 0.98, 1.01,
  1.03, 0.98, 1.00, 0.97, 1.02, 0.99, 1.01, 0.96, 1.00, 1.03,
  0.99, 1.02, 0.97, 1.01, 0.98, 1.03, 0.99, 1.01, 0.97, 1.00,
  1.02, 0.98, 1.00, 1.03, 0.97, 1.01, 0.99, 1.02, 0.98
];
const r24 = [
  1.02, 1.01, 0.99, 1.00, 0.98, 1.01, 0.96, 0.95, 0.98, 1.00,
  1.01, 0.98, 1.00, 0.40, 0.55, 0.62, 0.30, 0.48, 0.35, 0.58,
  0.45, 0.60, 0.38, 0.55, 0.62, 0.40, 0.55, 0.45, 0.62, 0.38,
  0.55, 0.45, 0.60, 0.35, 0.58, 0.48, 0.62, 0.40, 0.55, 0.45,
  0.38, 0.60, 0.45, 0.55, 0.62, 0.35, 0.58, 0.45, 0.60, 0.40,
  0.55, 0.45, 0.62, 0.38, 0.55, 0.48, 0.62, 0.40, 0.58, 0.45,
  0.62, 0.35, 0.55, 0.45, 0.60, 0.40, 0.58, 0.45, 0.62, 0.38,
  0.55, 0.48, 0.60, 0.40, 0.55, 0.62, 0.38, 0.58, 0.45, 0.55,
  0.40, 0.62, 0.45, 0.55, 1.01, 0.98, 1.02, 0.97, 1.00, 1.03,
  0.99, 1.01, 0.97, 1.02, 0.98, 1.00, 1.03, 0.98, 1.01, 0.97,
  1.02, 0.99, 1.01, 0.97, 1.00, 1.02, 0.98, 1.01, 0.99, 1.03,
  0.98, 1.01, 0.99, 1.02, 0.97, 1.00, 1.02, 0.98, 1.01
];
const r25 = [
  1.00, 0.98, 0.88, 0.52, 0.30, 0.45, 0.72, 0.96, 1.00, 0.72,
  0.42, 0.55, 0.32, 0.60, 0.38, 0.15, 0.58, 0.12, 0.45, 0.62,
  0.38, 0.55, 0.45, 0.62, 0.30, 0.58, 0.42, 0.55, 0.38, 0.62,
  0.45, 0.25, 0.55, 0.40, 0.58, 0.45, 0.62, 0.38, 0.55, 0.42,
  0.60, 0.28, 0.55, 0.45, 0.62, 0.40, 0.55, 0.60, 0.35, 0.55,
  0.45, 0.62, 0.38, 0.55, 0.40, 0.65, 0.42, 0.58, 0.35, 0.55,
  0.62, 0.40, 0.25, 0.58, 0.45, 0.62, 0.38, 0.55, 0.45, 0.60,
  0.38, 0.62, 0.45, 0.58, 0.35, 0.60, 0.45, 0.55, 0.40, 0.62,
  0.45, 0.58, 0.38, 0.62, 0.45, 0.55, 0.40, 0.62, 0.48, 0.35,
  0.58, 0.42, 0.62, 0.38, 0.55, 0.45, 0.60, 0.40, 0.55, 0.62,
  0.38, 0.58, 0.45, 0.62, 0.40, 0.55, 0.45, 0.60, 0.35, 0.55,
  0.62, 0.42, 0.55, 0.38, 0.60, 0.45, 0.55, 0.42, 0.58
];
const r26 = [
  1.03, 1.01, 0.92, 0.62, 0.44, 0.56, 0.78, 0.97, 0.98, 0.66,
  0.48, 0.36, 0.60, 0.42, 0.55, 0.45, 0.65, 0.28, 0.55, 0.45,
  0.58, 0.42, 0.62, 0.38, 0.55, 0.48, 0.25, 0.60, 0.42, 0.55,
  0.38, 0.62, 0.45, 0.55, 0.25, 0.58, 0.40, 0.55, 0.62, 0.38,
  0.55, 0.42, 0.62, 0.35, 0.55, 0.45, 0.60, 0.38, 0.20, 0.58,
  0.40, 0.55, 0.62, 0.38, 0.58, 0.45, 0.55, 0.40, 0.62, 0.45,
  0.55, 0.38, 0.60, 0.45, 0.20, 0.55, 0.40, 0.62, 0.45, 0.55,
  0.42, 0.60, 0.38, 0.55, 0.62, 0.40, 0.58, 0.45, 0.55, 0.38,
  0.62, 0.45, 0.55, 0.38, 0.60, 0.42, 0.55, 0.62, 0.40, 0.55,
  0.45, 0.62, 0.38, 0.55, 0.40, 0.58, 0.45, 0.62, 0.38, 0.55,
  0.60, 0.42, 0.55, 0.38, 0.62, 0.45, 0.55, 0.28, 0.58, 0.42,
  0.55, 0.38, 0.62, 0.45, 0.55, 0.40, 0.60, 0.45, 0.55
];
// runs that leave the range in one step
const w1 = [
  1.01, 0.99, 0.90, 0.60, 0.42, 0.55, 0.72, 0.90, -9, -9,
  -9, -9, -9, -9, -9, -9, -9, -9, -9, -9,
  -9, -9, -9, -9, -9, -9, -9, -9, -9, -9,
  -9, -9, -9, -9, -9, -9, -9, -9, -9, -9,
  9, 9, 9, 9, 9, 9, 9, 9, 9, 9,
  9, 9, 9, 9, 9, 9, 9, 9, 9, 9,
  9, 9, -9, -9, -9, -9, -9, -9, -9, -9,
  -9, -9, -9, -9, -9, -9, -9, -9, -9, -9,
  -9, -9, -9, -9, -9, -9, -9, -9, -9, -9,
  -9, -9, -9, 9, 9, 9, 9, 9, 9, 9,
  9, 9, 9, 9, 9, 9, 9, 9, 9, 9,
  9, 9, 9, 9, 9, 9, -9, -9, -9
];
const w2 = [
  1.00, 1.02, 0.88, 0.55, 0.40, 0.50, 0.74, 0.91, 0.95, 0.62,
  0.45, 0.58, 0.38, 0.55, 0.40, 0.12, 0.30, 0.55, -9, -9,
  -9, -9, -9, -9, -9, -9, -9, -9, -9, -9,
  -9, -9, -9, -9, -9, -9, 9, 9, 9, 9,
  9, 9, 9, 9, 9, 9, 9, 9, 9, 9,
  9, 9, 9, 9, 9, 9, 9, 9, 9, 9,
  9, 9, 9, 9, 9, 9, 9, 9, 9, 9,
  9, 9, 9, 9, 9, 9, -9, -9, -9, -9,
  -9, -9, -9, -9, -9, -9, -9, -9, -9, -9,
  -9, -9, -9, -9, -9, -9, -9, -9, 9, 9,
  9, 9, 9, 9, 9, 9, 9, 9, 9, 9,
  9, 9, 9, 9, 9, 9, 9, -9, -9
];
const w3 = [
  0.99, 1.03, 0.93, 0.57, 0.35, 0.53, 0.76, 0.87, 0.92, 0.70,
  0.52, 0.40, 0.62, 0.35, 0.55, 0.45, 0.20, 0.58, 0.42, 0.55,
  0.40, 0.62, 0.45, 0.38, 0.55, -9
];
const w4 = [
  9, 9, 1.00, 0.98, 9, 9, 9, 1.01, 0.99, 1.02,
  0.98, 1.00, 9, 9, 9, 9, 9, 9, 9, 9,
  1.00
];
const w5 = [
  9, 9, 1.00, 0.97, 1.02, 0.99, 1.01, 0.98, 1.03, 0.99,
  1.00, 0.97, 1.02, 0.98, 1.01, 0.99, 1.03, 0.98, 1.00, 1.02,
  0.97, 1.01, 0.99, 1.02, 0.98, 1.00, 1.03, 0.97, 1.01, 0.99,
  1.02
];

// reds painted above the green runs
const redTop = [r25, r26, r6, r24, r12, r13];
const redTopShift = [0.375, 0.125, 0.25, 0.25, 0.375, 0.25];
// reds painted below the green runs
const redLow = [r1, r2, r3, r4, r5, r7, r8, r9, r10, r11, r14, r15, r16, r17,
  r18, r19, r21, r22, r23, w1, w2, w3, w4, w5];
const redLowShift = [0, 0.25, 0, 0.125, 0.125, 0.375, 0.125, 0.25, 0, 0.125, 0.125, 0.375, 0.125, 0.25,
  0.375, 0.125, 0.25, 0.375, 0.125, 0.25, 0.125, 0.25, 0, 0];
// index in xs where a red run begins (only the short ones differ from 0)
const redLowStart = [0, 0, 0, 0, 0, 0, 0, 0, 0, 0, 0, 0, 0, 0,
  0, 0, 0, 0, 0, 0, 0, 0, 98, 88];
const greenRuns = [g1, g2, g3, g4, g5, g6, g7, g8];
const greenShift = [0.0625, 0.3125, 0.1875, 0.4375, 0.125, 0.375, 0.25, 0];

function toPoints(ys, start, shift) {
  return ys.map((y, i) => ({ x: xs[start + i] + shift, y: y }))
    .filter(p => !Number.isNaN(p.x));
}

const red = '#ff0000';
const green = '#00f000';
const datasets = [];
// the first dataset is painted last
redTop.forEach((ys, k) => {
  datasets.push({ data: toPoints(ys, 0, redTopShift[k]), borderColor: red, borderWidth: 1.1 });
});
greenRuns.forEach((ys, k) => {
  datasets.push({ data: toPoints(ys, 0, greenShift[k]), borderColor: green, borderWidth: 1.6 });
});
redLow.forEach((ys, k) => {
  datasets.push({ data: toPoints(ys, redLowStart[k], redLowShift[k]), borderColor: red, borderWidth: 1.1 });
});

const axisColor = '#262626';
const tickFont = { family: 'DejaVu Sans', size: 24 };

// MATLAB style box: top edge plus inward tick marks
const boxPlugin = {
  id: 'matlabBox',
  afterDraw(chart) {
    const { ctx, chartArea: a, scales } = chart;
    ctx.save();
    ctx.strokeStyle = '#5a5a5a';
    ctx.lineWidth = 1.5;
    ctx.beginPath();
    ctx.moveTo(a.left, a.top);
    ctx.lineTo(a.right, a.top);
    ctx.moveTo(a.left, a.top);
    ctx.lineTo(a.left, a.bottom);
    ctx.lineTo(a.right, a.bottom);
    xTicks.forEach(v => {
      const px = scales.x.getPixelForValue(v);
      ctx.moveTo(px, a.bottom);
      ctx.lineTo(px, a.bottom - 7);
      ctx.moveTo(px, a.top);
      ctx.lineTo(px, a.top + 7);
    });
    yTicks.forEach(v => {
      const py = scales.y.getPixelForValue(v);
      ctx.moveTo(a.left, py);
      ctx.lineTo(a.left + 8, py);
    });
    ctx.stroke();
    ctx.restore();
  }
};

new Chart(document.getElementById('egoChart').getContext('2d'), {
  type: 'line',
  data: { datasets: datasets },
  options: {
    responsive: false,
    animation: false,
    devicePixelRatio: 1,
    layout: { padding: 0 },
    elements: {
      point: { radius: 0 },
      line: { tension: 0, fill: false }
    },
    datasets: { line: { clip: 0 } },
    plugins: {
      legend: { display: false },
      tooltip: { enabled: false },
      title: {
        display: true,
        text: titleText,
        fullSize: false,
        color: '#000',
        font: { family: 'DejaVu Sans', size: 24, weight: 'bold', lineHeight: 1.2 },
        padding: { top: 4, bottom: 2.2 }
      }
    },
    scales: {
      x: {
        type: 'linear',
        min: 0.25,
        max: 59.25,
        afterBuildTicks: s => { s.ticks = xTicks.map(v => ({ value: v })); },
        afterFit: s => { s.height = 40; },
        grid: { display: false, drawTicks: false },
        border: { display: false },
        ticks: { font: tickFont, color: axisColor, padding: 10, maxRotation: 0, autoSkip: false,
                 callback: v => String(v) }
      },
      y: {
        min: -0.66,
        max: 1.93,
        afterBuildTicks: s => { s.ticks = yTicks.map(v => ({ value: v })); },
        afterFit: s => { s.width = 133; },
        grid: { display: false, drawTicks: false },
        border: { display: false },
        ticks: { font: tickFont, color: axisColor, padding: 15, autoSkip: false,
                 callback: v => String(v) }
      }
    }
  },
  plugins: [boxPlugin]
});
</script>
</body>
</html>
